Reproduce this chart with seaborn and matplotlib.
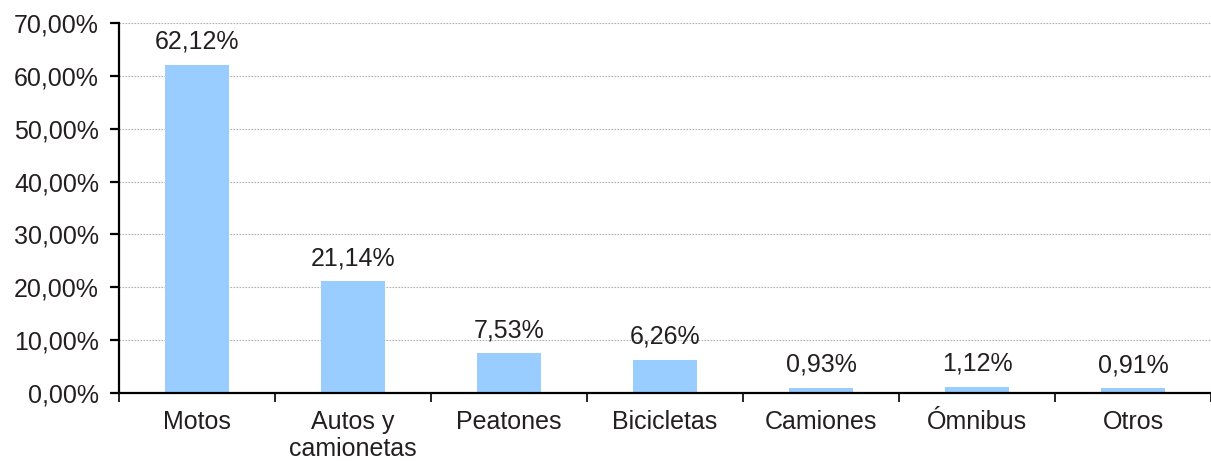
import matplotlib
matplotlib.use("Agg")
import matplotlib.pyplot as plt
import matplotlib.ticker as mticker
import seaborn as sns
import pandas as pd
import numpy as np

# --- data ---
categories = ["Motos", "Autos y\ncamionetas", "Peatones", "Bicicletas",
              "Camiones", "Ómnibus", "Otros"]
values = [62.12, 21.14, 7.53, 6.26, 0.93, 1.12, 0.91]

df = pd.DataFrame({"cat": categories, "val": values})

sns.set_theme(style="white")
plt.rcParams["font.family"] = ["Liberation Sans", "DejaVu Sans"]

fig = plt.figure(figsize=(12.11, 4.61), dpi=100)
ax = fig.add_axes([0.0983, 0.1475, 0.9017, 0.8025])

sns.barplot(data=df, x="cat", y="val", color="#99CCFF", width=0.41,
            saturation=1, linewidth=0, ax=ax)

def fmt_pct(v, pos=None):
    return f"{v:.2f}".replace(".", ",") + "%"

# value labels above bars
for i, v in enumerate(values):
    ax.annotate(fmt_pct(v), (i, v), xytext=(0, 8), textcoords="offset points",
                ha="center", va="bottom", fontsize=18, color="#231f20")

ax.set_ylim(0, 70)
ax.set_xlim(-0.5, len(categories) - 0.5)
ax.yaxis.set_major_locator(mticker.MultipleLocator(10))
ax.yaxis.set_major_formatter(mticker.FuncFormatter(fmt_pct))

# x ticks at category boundaries
ax.set_xticks(np.arange(len(categories)))
ax.set_xticklabels(categories, linespacing=1.18)
ax.set_xticks(np.arange(-0.5, len(categories)), minor=True)
ax.tick_params(axis="x", which="major", length=0, pad=12, labelsize=18,
               labelcolor="#231f20")
ax.tick_params(axis="x", which="minor", length=6.5, width=1.2, color="black",
               direction="out", bottom=True)
ax.tick_params(axis="y", which="major", length=6.5, width=1.6, color="black",
               direction="out", left=True, labelsize=18, labelcolor="#231f20",
               pad=8)

ax.yaxis.grid(True, linestyle=(0, (1.5, 1.2)), color="#b0b0b0", linewidth=0.8)
ax.set_axisbelow(True)
ax.set_xlabel("")
ax.set_ylabel("")

for s in ["top", "right"]:
    ax.spines[s].set_visible(False)
for s in ["left", "bottom"]:
    ax.spines[s].set_color("black")
    ax.spines[s].set_linewidth(1.6)

fig.savefig("out.png", dpi=100)
